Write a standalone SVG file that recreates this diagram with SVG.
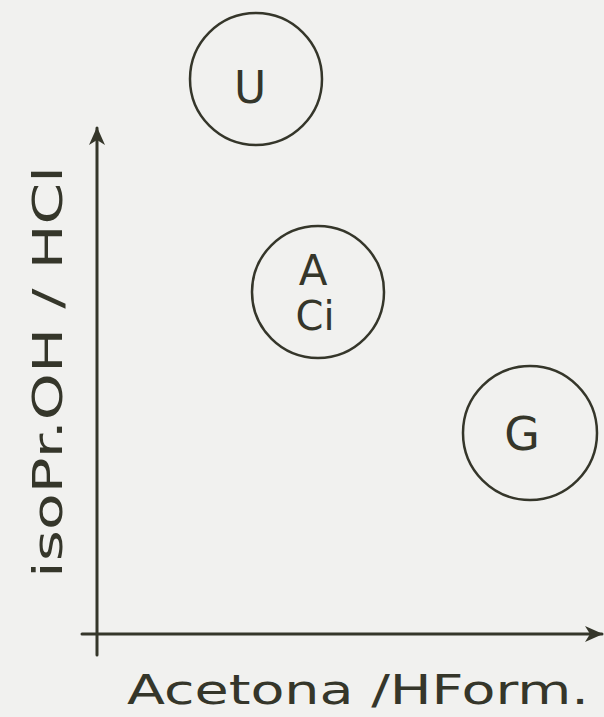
<svg xmlns="http://www.w3.org/2000/svg" width="604" height="717" viewBox="0 0 604 717">
<style>
.ln{stroke:#35362a;stroke-width:3;fill:none;stroke-linecap:round}
.nd{stroke:#35362a;stroke-width:2.5;fill:none}
.t{font-family:"DejaVu Sans","Liberation Sans",sans-serif;fill:#35362a}
</style>
<defs>
<marker id="ah2" markerWidth="18" markerHeight="16" refX="17" refY="8" orient="auto" markerUnits="userSpaceOnUse" viewBox="0 0 18 16">
<path d="M0,0 L18,8 L0,16 L5,8 Z" fill="#35362a"/>
</marker>
</defs>
<rect width="604" height="717" fill="#f1f1ef"/>
<g id="connectors">
<line class="ln" x1="97" y1="655" x2="97" y2="128" marker-end="url(#ah2)"/>
<line class="ln" x1="82" y1="634" x2="602" y2="634" marker-end="url(#ah2)"/>
</g>
<g id="node-U">
<circle class="nd" cx="256" cy="79" r="66"/>
<text class="t" x="250" y="103" font-size="44" text-anchor="middle">U</text>
</g>
<g id="node-ACi">
<circle class="nd" cx="318" cy="292" r="66"/>
<text class="t" x="313" y="285" font-size="42" text-anchor="middle">A</text>
<text class="t" x="315" y="330" font-size="40" text-anchor="middle">Ci</text>
</g>
<g id="node-G">
<circle class="nd" cx="530" cy="433" r="67"/>
<text class="t" x="522" y="450" font-size="46" text-anchor="middle">G</text>
</g>
<g id="labels">
<text class="t" transform="translate(62,372) rotate(-90)" font-size="40" text-anchor="middle" textLength="412" lengthAdjust="spacingAndGlyphs">isoPr.OH / HCl</text>
<text class="t" x="358" y="704" font-size="40" text-anchor="middle" textLength="462" lengthAdjust="spacingAndGlyphs">Acetona /HForm.</text>
</g>
</svg>
